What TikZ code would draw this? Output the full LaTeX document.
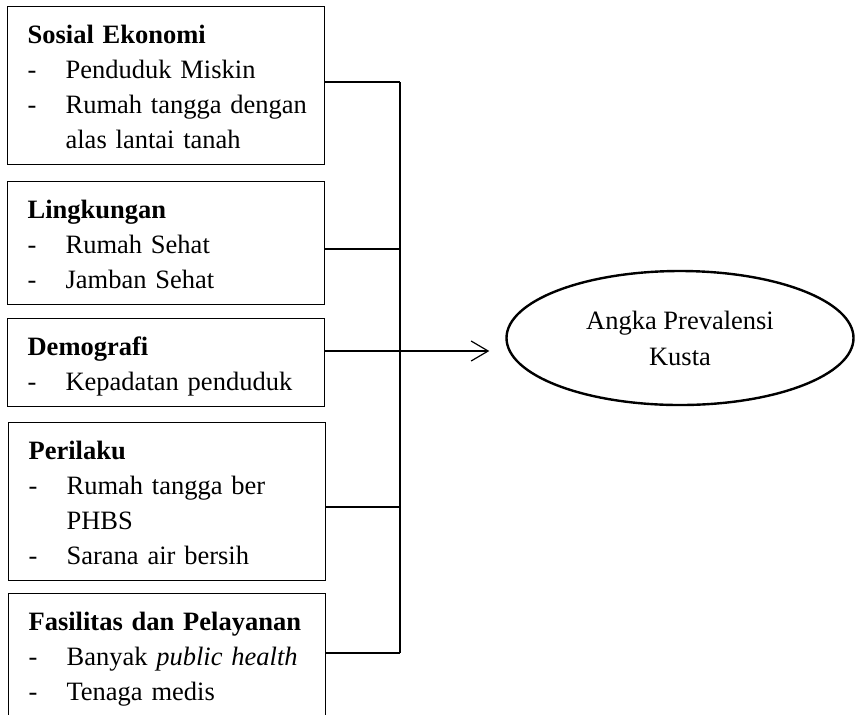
\documentclass[tikz,border=0pt]{standalone}
\usepackage{fontspec}
\setmainfont{Liberation Serif}
\usetikzlibrary{arrows.meta,shapes.geometric}

\newcommand{\topstrut}{\rule{0pt}{15.75pt}}
\newcommand{\botstrut}{\rule[-5.25pt]{0pt}{5.25pt}}
\newcommand{\dashitem}[1]{\mbox{\makebox[19pt][l]{-}#1}}
\newcommand{\contline}[1]{\mbox{\hspace*{19pt}#1}}

\begin{document}
\begin{tikzpicture}[x=0.5pt,y=-0.5pt,
  factor/.style={draw,line width=0.6pt,rectangle,anchor=north west,
    text width=138.5pt,inner xsep=10pt,inner ysep=2.75pt,align=left,
    font=\fontsize{13.25}{17.5}\selectfont},
  outcome/.style={draw,line width=1.2pt,ellipse,minimum width=173.5pt,
    minimum height=67pt,inner sep=0pt,align=center,
    font=\fontsize{13.25}{18}\selectfont},
  link/.style={line width=0.6pt}]
\useasboundingbox (0,0) rectangle (856,714);
\clip (0,0) rectangle (856,714);
% faktor-faktor
\node[factor] (sosial) at (7,6) {\topstrut\textbf{Sosial Ekonomi}\\
  \dashitem{Penduduk Miskin}\\
  \dashitem{Rumah tangga dengan}\\
  \contline{alas lantai tanah}\botstrut};
\node[factor] (lingkungan) at (7,181) {\topstrut\textbf{Lingkungan}\\
  \dashitem{Rumah Sehat}\\
  \dashitem{Jamban Sehat}\botstrut};
\node[factor] (demografi) at (7,318) {\topstrut\textbf{Demografi}\\
  \dashitem{Kepadatan penduduk}\botstrut};
\node[factor] (perilaku) at (8,422) {\topstrut\textbf{Perilaku}\\
  \dashitem{Rumah tangga ber}\\
  \contline{PHBS}\\
  \dashitem{Sarana air bersih}\botstrut};
\node[factor] (fasilitas) at (8,593) {\topstrut\textbf{Fasilitas dan Pelayanan}\\
  \dashitem{Banyak \textit{public health}}\\
  \dashitem{Tenaga medis}\botstrut};
% hasil
\node[outcome] (prevalensi) at (680,338) {Angka Prevalensi\\Kusta};
% garis penghubung
\coordinate (j1) at (400,82);
\coordinate (j2) at (400,249);
\coordinate (j3) at (400,351);
\coordinate (j4) at (400,507);
\coordinate (j5) at (400,653);
\foreach \n/\j in {sosial/j1,lingkungan/j2,perilaku/j4,fasilitas/j5}
  {\draw[link] (\n.east |- \j) -- (\j);}
\draw[link] (j1) -- (j5);
\draw[link,-{Straight Barb[length=8.5pt,width=10pt]},shorten >=8pt]
  (demografi.east |- j3) -- (prevalensi.west |- j3);
\end{tikzpicture}
\end{document}
